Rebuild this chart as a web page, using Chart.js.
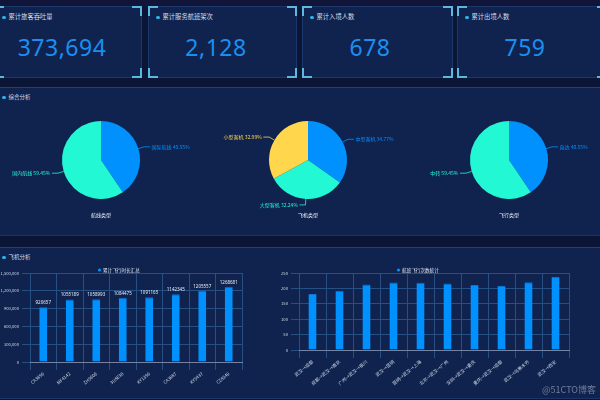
<!DOCTYPE html>
<html>
<head>
<meta charset="utf-8">
<script src="https://cdn.jsdelivr.net/npm/chart.js@4.4.0/dist/chart.umd.min.js"></script>
<style>
body{margin:0;width:600px;height:400px;overflow:hidden;background:#0b1536;position:relative;font-family:"Noto Sans CJK SC",sans-serif}
.top{position:absolute;left:0;top:0;width:600px;height:6px;background:#12153a}
.box{position:absolute;background:#10234f;border:1px solid #1b376c;box-sizing:border-box}
.c{position:absolute;width:8px;height:8px;border:0 solid #5cb9dd}
.tl{left:-1px;top:-1px;border-top-width:2px;border-left-width:2px}
.tr{right:-1px;top:-1px;border-top-width:2px;border-right-width:2px}
.bl{left:-1px;bottom:-1px;border-bottom-width:2px;border-left-width:2px}
.br{right:-1px;bottom:-1px;border-bottom-width:2px;border-right-width:2px}
.ttl{position:absolute;left:7px;top:5px;font-size:6.3px;color:#d6ddeb;white-space:nowrap;line-height:9px}
.ttl:before{content:"";display:inline-block;width:3.5px;height:3.5px;border-radius:50%;background:#2fb4e6;margin-right:3px;vertical-align:middle}
.sec{font-size:5.5px}
.num{position:absolute;left:0;width:134px;top:25px;text-align:center;font-family:"Noto Sans",sans-serif;font-size:23px;color:#1a8ff0;line-height:30px;letter-spacing:0.5px}
.panel{position:absolute;left:-2px;width:604px;background:#10234f;border-top:1px solid #243f78;border-bottom:1px solid #1b346a;box-sizing:border-box}
canvas{position:absolute}
.mark{position:absolute;right:4px;top:383px;font-size:9px;color:rgba(190,195,210,0.55)}
</style>
</head>
<body>
<div class="top"></div>
<div id="cards"></div>
<div class="panel" style="top:87px;height:149px"><div class="ttl sec" style="left:4px">综合分析</div></div>
<div class="panel" style="top:247px;height:152px"><div class="ttl sec" style="left:4px">飞机分析</div></div>
<canvas id="pie1" width="260" height="120" style="left:-29px;top:110px"></canvas>
<canvas id="pie2" width="260" height="120" style="left:178px;top:110px"></canvas>
<canvas id="pie3" width="260" height="120" style="left:379px;top:110px"></canvas>
<canvas id="bar1" width="250" height="130" style="left:0;top:257px"></canvas>
<canvas id="bar2" width="310" height="130" style="left:270px;top:257px"></canvas>
<div class="mark">@51CTO博客</div>
<script>
const cardTitles = ['累计旅客吞吐量', '累计服务航班架次', '累计入境人数', '累计出境人数']
const cardValues = ['373,694', '2,128', '678', '759']

const routeTypeLabels = ['国际航线', '国内航线']
const routeTypeValues = [40.55, 59.45]
const planeTypeLabels = ['中型客机', '大型客机', '小型客机']
const planeTypeValues = [34.77, 32.24, 32.99]
const flightTypeLabels = ['直达', '中转']
const flightTypeValues = [40.55, 59.45]

const flightNos = ['CA3890', 'MF4142', 'ZH9606', '3U8638', 'KY1390', 'CA3887', 'KY9437', 'CZ8340']
const flightHours = [920657, 1055189, 1058993, 1084475, 1091165, 1142345, 1205557, 1268681]
const hourTicks = [0, 300000, 600000, 900000, 1200000, 1500000]

const routes = ['武汉→成都', '成都→武汉→南京', '广州→武汉→银川', '武汉→昆明', '昆明→武汉→上海',
    '北京→武汉→广州', '深圳→武汉→重庆', '重庆→武汉→成都', '武汉→乌鲁木齐', '武汉→西安']
const routeCounts = [182, 192, 213, 219, 218, 216, 211, 208, 220, 237]
const countTicks = [0, 50, 100, 150, 200, 250]

const cardLeft = [-6, 148, 302, 457]
const cardWidth = [148, 149, 151, 150]
const blue = '#0091ff', teal = '#22f8d4', yellow = '#ffd64c'

// kpi cards
const cards = document.getElementById('cards')
cardTitles.forEach((t, i) => {
    const d = document.createElement('div')
    d.className = 'box'
    d.style.cssText = `left:${cardLeft[i]}px;top:6px;width:${cardWidth[i]}px;height:72px`
    d.innerHTML = `<div class="c tl"></div><div class="c tr"></div><div class="c bl"></div><div class="c br"></div>
        <div class="ttl">${t}</div><div class="num">${cardValues[i]}</div>`
    cards.appendChild(d)
})

Chart.defaults.font.family = '"Noto Sans CJK SC", sans-serif'
Chart.defaults.animation = false

const outLabels = {
    id: 'outLabels',
    afterDatasetsDraw(chart) {
        const ctx = chart.ctx
        const ds = chart.data.datasets[0]
        chart.getDatasetMeta(0).data.forEach((arc, i) => {
            const p = arc.getProps(['x', 'y', 'startAngle', 'endAngle', 'outerRadius'], true)
            const mid = (p.startAngle + p.endAngle) / 2
            const cos = Math.cos(mid), sin = Math.sin(mid)
            const x0 = p.x + cos * p.outerRadius, y0 = p.y + sin * p.outerRadius
            const x1 = p.x + cos * (p.outerRadius + 6), y1 = p.y + sin * (p.outerRadius + 6)
            const dir = cos >= 0 ? 1 : -1
            const x2 = x1 + dir * 6
            const col = ds.backgroundColor[i]
            ctx.save()
            ctx.strokeStyle = col
            ctx.lineWidth = 0.8
            ctx.beginPath()
            ctx.moveTo(x0, y0)
            ctx.lineTo(x1, y1)
            ctx.lineTo(x2, y1)
            ctx.stroke()
            ctx.fillStyle = col
            ctx.font = '5px "Noto Sans CJK SC", sans-serif'
            ctx.textAlign = dir > 0 ? 'left' : 'right'
            ctx.textBaseline = 'middle'
            ctx.fillText(chart.data.labels[i] + ' ' + ds.data[i].toFixed(2) + '%', x2 + dir * 1.5, y1)
            ctx.restore()
        })
    }
}

function makePie(id, labels, values, colors, title) {
    new Chart(document.getElementById(id), {
        type: 'pie',
        data: {labels: labels, datasets: [{data: values, backgroundColor: colors, borderWidth: 0}]},
        options: {
            responsive: false,
            layout: {padding: {top: 11, left: 30, right: 30}},
            plugins: {
                legend: {display: false},
                tooltip: {enabled: false},
                title: {display: true, text: title, position: 'bottom', color: '#e8edf7',
                    font: {size: 5, weight: 'normal'}, padding: {top: 13, bottom: 12}}
            }
        },
        plugins: [outLabels]
    })
}

makePie('pie1', routeTypeLabels, routeTypeValues, [blue, teal], '航线类型')
makePie('pie2', planeTypeLabels, planeTypeValues, [blue, teal, yellow], '飞机类型')
makePie('pie3', flightTypeLabels, flightTypeValues, [blue, teal], '飞行类型')

const miniLegend = {
    id: 'miniLegend',
    afterDraw(chart, args, opts) {
        const ctx = chart.ctx
        const ds = chart.data.datasets[0]
        ctx.save()
        ctx.fillStyle = ds.backgroundColor
        ctx.beginPath()
        ctx.arc(opts.x + 1.5, opts.y, 1.6, 0, Math.PI * 2)
        ctx.fill()
        ctx.fillStyle = '#dfe5f2'
        ctx.font = '4.6px "Noto Sans CJK SC", sans-serif'
        ctx.textBaseline = 'middle'
        ctx.fillText(ds.label, opts.x + 5, opts.y)
        ctx.restore()
    }
}

const valueLabels = {
    id: 'valueLabels',
    afterDatasetsDraw(chart, args, opts) {
        if (!opts.show) return
        const ctx = chart.ctx
        const ds = chart.data.datasets[0]
        ctx.save()
        ctx.fillStyle = '#e6ebf5'
        ctx.font = '4.5px "Noto Sans", sans-serif'
        ctx.textAlign = 'center'
        ctx.textBaseline = 'bottom'
        chart.getDatasetMeta(0).data.forEach((bar, i) => {
            ctx.fillText(String(ds.data[i]), bar.x, bar.y - 2)
        })
        ctx.restore()
    }
}

function makeBar(id, labels, values, ticks, name, yw, xh, padR, legendX, showValues) {
    new Chart(document.getElementById(id), {
        type: 'bar',
        data: {labels: labels, datasets: [{label: name, data: values, backgroundColor: blue,
            borderColor: '#0a72d0', borderWidth: {top: 1, left: 0, right: 0, bottom: 0},
            barPercentage: 0.3, categoryPercentage: 1}]},
        options: {
            responsive: false,
            layout: {padding: {top: 16, right: padR}},
            scales: {
                x: {
                    grid: {color: '#265083', offset: true},
                    border: {color: '#7483a3'},
                    ticks: {color: '#cfd6e4', font: {size: 4.5}, maxRotation: 40, minRotation: 40, autoSkip: false, padding: 1},
                    afterFit: s => { s.height = xh }
                },
                y: {
                    min: 0, max: ticks[ticks.length - 1],
                    grid: {color: '#265083'},
                    border: {display: false},
                    afterBuildTicks: s => { s.ticks = ticks.map(v => ({value: v})) },
                    ticks: {color: '#cfd6e4', font: {size: 4.2}, padding: 3,
                        callback: v => v.toLocaleString('en-US')},
                    afterFit: s => { s.width = yw }
                }
            },
            plugins: {
                legend: {display: false},
                tooltip: {enabled: false},
                miniLegend: {x: legendX, y: 13},
                valueLabels: {show: showValues}
            }
        },
        plugins: [miniLegend, valueLabels]
    })
}

makeBar('bar1', flightNos, flightHours, hourTicks, '累计飞行时长汇总', 30, 25, 8, 98, true)
makeBar('bar2', routes, routeCounts, countTicks, '航班飞行次数统计', 29, 37, 11, 127, false)
</script>
</body>
</html>
